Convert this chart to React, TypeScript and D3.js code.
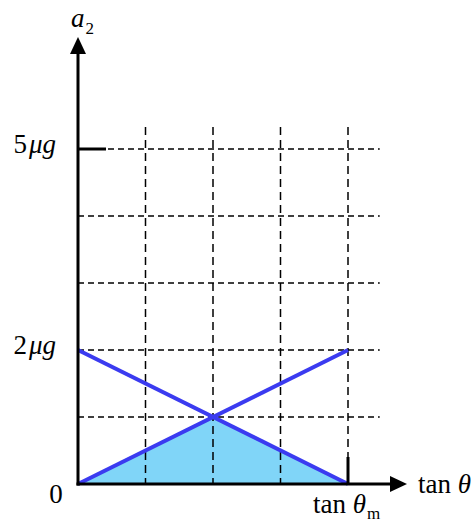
import React from "react";
import * as d3 from "d3";

// Grid positions along each axis (in units of tanθ steps and μg)
const tanSteps = [1, 2, 3, 4];
const accelSteps = [1, 2, 3, 4, 5];

// Two linear relations: a rising one and a falling one
const xs = [0, 4];
const risingValues = [0, 2];
const fallingValues = [2, 0];

// Labelled accelerations on the vertical axis
const accelLabels = [
  { value: 5, num: "5" },
  { value: 2, num: "2" },
];

const W = 473;
const H = 523;
const FONT = '"Liberation Serif", "Times New Roman", Times, serif';
const BLUE = "#3b3bf0";
const FILL = "#80d5f8";
const FS = 27;
const SUB = 17;

export default function App() {
  const x = d3.scaleLinear().domain([0, 4]).range([78, 348]);
  const y = d3.scaleLinear().domain([0, 5]).range([484, 149]);

  const line = d3
    .line<[number, number]>()
    .x((d) => x(d[0]))
    .y((d) => y(d[1]));

  const rising: [number, number][] = xs.map((v, i) => [v, risingValues[i]]);
  const falling: [number, number][] = xs.map((v, i) => [v, fallingValues[i]]);

  // intersection of the two lines
  const sR = (risingValues[1] - risingValues[0]) / (xs[1] - xs[0]);
  const sF = (fallingValues[1] - fallingValues[0]) / (xs[1] - xs[0]);
  const xi = (fallingValues[0] - risingValues[0]) / (sR - sF);
  const yi = risingValues[0] + sR * xi;

  // region under the lower envelope
  const region: [number, number][] = [
    [xs[0], risingValues[0]],
    [xi, yi],
    [xs[1], fallingValues[1]],
  ];
  const area = d3
    .area<[number, number]>()
    .x((d) => x(d[0]))
    .y0(y(0))
    .y1((d) => y(d[1]));

  const x0 = x(0);
  const y0 = y(0);
  const gridRight = x(4.47);
  const gridTop = y(5.33);
  const xMax = x(4);

  return (
    <svg
      width={W}
      height={H}
      style={{ position: "absolute", left: 0, top: 0, background: "#fff", fontFamily: FONT }}
    >
      <path d={area(region) ?? ""} fill={FILL} />

      {/* horizontal dashed grid */}
      {accelSteps.map((v) => (
        <line
          key={`h${v}`}
          x1={x0}
          x2={gridRight}
          y1={y(v)}
          y2={y(v)}
          stroke="#000"
          strokeWidth={1.5}
          strokeDasharray="6,4"
        />
      ))}
      {/* vertical dashed grid */}
      {tanSteps.map((v) => (
        <line
          key={`v${v}`}
          x1={x(v)}
          x2={x(v)}
          y1={gridTop}
          y2={y0}
          stroke="#000"
          strokeWidth={1.5}
          strokeDasharray="8,5"
        />
      ))}

      {/* the two lines */}
      <path d={line(rising) ?? ""} stroke={BLUE} strokeWidth={4} fill="none" />
      <path d={line(falling) ?? ""} stroke={BLUE} strokeWidth={4} fill="none" />

      {/* axes */}
      <line x1={x0} x2={x0} y1={y0 + 1.5} y2={52} stroke="#000" strokeWidth={3} />
      <polygon points={`${x0},37 ${x0 - 8},54 ${x0 + 8},54`} fill="#000" />
      <line x1={x0 - 1.5} x2={392} y1={y0} y2={y0} stroke="#000" strokeWidth={3} />
      <polygon points={`407,${y0} 390,${y0 - 8} 390,${y0 + 8}`} fill="#000" />

      {/* solid ticks */}
      <line x1={x0} x2={x0 + 28} y1={y(5)} y2={y(5)} stroke="#000" strokeWidth={3} />
      <line x1={xMax} x2={xMax} y1={y0} y2={y0 - 27} stroke="#000" strokeWidth={3} />

      {/* labels */}
      <text x={71} y={27} fontSize={FS} fontFamily={FONT}>
        <tspan fontStyle="italic">a</tspan>
        <tspan fontSize={SUB} dy={7} dx={1}>2</tspan>
      </text>
      {accelLabels.map((d) => (
        <text key={d.num} x={56} y={y(d.value) + 4} fontSize={FS} textAnchor="end" fontFamily={FONT}>
          <tspan>{d.num}</tspan>
          <tspan fontStyle="italic" dx={2}>μg</tspan>
        </text>
      ))}
      <text x={56} y={503} fontSize={FS} textAnchor="middle" fontFamily={FONT}>0</text>
      <text x={418} y={493} fontSize={FS} fontFamily={FONT}>
        <tspan>tan </tspan>
        <tspan fontStyle="italic">θ</tspan>
      </text>
      <text x={313} y={513} fontSize={FS} fontFamily={FONT}>
        <tspan>tan </tspan>
        <tspan fontStyle="italic">θ</tspan>
        <tspan fontSize={SUB} dy={6} dx={1}>m</tspan>
      </text>
    </svg>
  );
}
